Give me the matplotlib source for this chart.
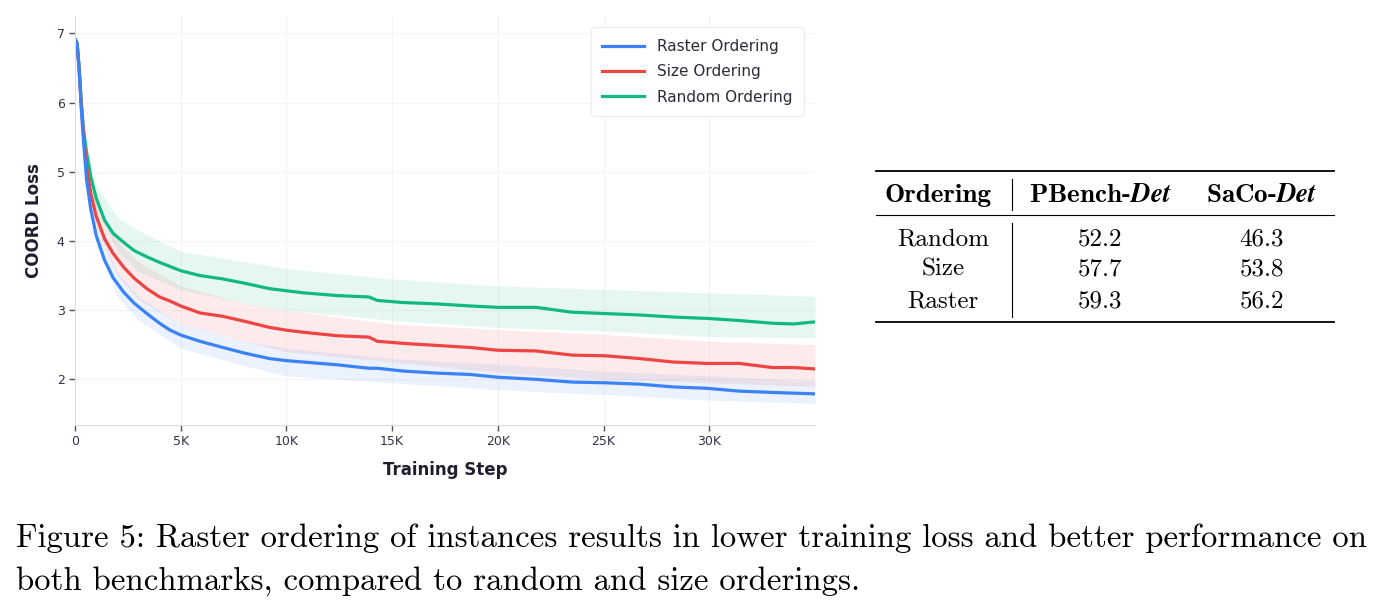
import matplotlib
matplotlib.use("Agg")
import matplotlib.pyplot as plt
from matplotlib.lines import Line2D
import numpy as np

# Smoothed COORD loss (steps in thousands)
steps_k = [0, 0.1, 0.2, 0.3, 0.4, 0.55, 0.75, 1.0, 1.4, 1.8, 2.3, 2.8, 3.4, 4.0, 4.5,
           5.0, 5.9, 7.0, 8.0, 9.2, 10.0, 10.8, 12.4, 13.9, 14.3, 15.5, 17.1, 18.7,
           20.0, 21.8, 23.5, 25.1, 26.7, 28.3, 29.9, 31.4, 33.0, 34.0, 35.0]
raster_loss = [6.92, 6.85, 6.45, 5.90, 5.45, 4.88, 4.45, 4.08, 3.72, 3.47, 3.26, 3.10, 2.95,
               2.81, 2.71, 2.64, 2.55, 2.46, 2.38, 2.30, 2.27, 2.25, 2.21, 2.16, 2.16, 2.12,
               2.09, 2.07, 2.03, 2.00, 1.96, 1.95, 1.93, 1.89, 1.87, 1.83, 1.81, 1.80, 1.79]
size_loss = [6.92, 6.85, 6.45, 5.95, 5.55, 5.06, 4.68, 4.36, 4.03, 3.82, 3.62, 3.46, 3.31,
             3.19, 3.13, 3.06, 2.96, 2.91, 2.84, 2.75, 2.71, 2.68, 2.63, 2.61, 2.55, 2.52,
             2.49, 2.46, 2.42, 2.41, 2.35, 2.34, 2.30, 2.25, 2.23, 2.23, 2.17, 2.17, 2.15]
random_loss = [6.92, 6.86, 6.50, 6.00, 5.62, 5.27, 4.92, 4.62, 4.30, 4.11, 3.98, 3.86, 3.77,
               3.69, 3.63, 3.57, 3.50, 3.45, 3.39, 3.31, 3.28, 3.25, 3.21, 3.19, 3.14, 3.11,
               3.09, 3.06, 3.04, 3.04, 2.97, 2.95, 2.93, 2.90, 2.88, 2.85, 2.81, 2.80, 2.83]

# Spread of the raw (unsmoothed) loss
band_k = [0.5, 1, 2, 3, 5, 8, 10, 15, 20, 25, 30, 35]
raster_lo = [4.90, 3.95, 3.20, 2.85, 2.45, 2.20, 2.05, 1.95, 1.85, 1.78, 1.70, 1.65]
raster_hi = [5.10, 4.25, 3.55, 3.20, 2.80, 2.55, 2.45, 2.30, 2.22, 2.12, 2.05, 1.98]
size_lo = [5.00, 4.20, 3.50, 3.15, 2.80, 2.55, 2.40, 2.25, 2.10, 2.00, 1.95, 1.90]
size_hi = [5.20, 4.55, 4.00, 3.70, 3.35, 3.10, 3.00, 2.80, 2.72, 2.65, 2.55, 2.50]
random_lo = [5.20, 4.45, 3.85, 3.55, 3.30, 3.10, 3.00, 2.85, 2.75, 2.70, 2.62, 2.60]
random_hi = [5.45, 4.80, 4.35, 4.15, 3.85, 3.70, 3.60, 3.45, 3.35, 3.30, 3.25, 3.20]

series_names = ["Raster Ordering", "Size Ordering", "Random Ordering"]
colors = ["#3b82f6", "#ef4444", "#10b981"]

# Table
table_header = ["Ordering", "PBench-", "SaCo-"]
orderings = ["Random", "Size", "Raster"]
pbench_det = [52.2, 57.7, 59.3]
saco_det = [46.3, 53.8, 56.2]

caption_lines = [
    "Figure 5: Raster ordering of instances results in lower training loss and better performance on",
    "both benchmarks, compared to random and size orderings.",
]

plt.rcParams["mathtext.fontset"] = "custom"
plt.rcParams["mathtext.bfit"] = "STIXGeneral:italic:bold"

W, H = 1385, 611
fig = plt.figure(figsize=(W / 100, H / 100), dpi=100)


def fx(px):
    return px / W


def fy(py):
    return 1 - py / H


ax = fig.add_axes([fx(75), fy(425), fx(815) - fx(75), fy(16) - fy(425)])

x = np.array(steps_k) * 1000
xb = np.array(band_k) * 1000
curves = [raster_loss, size_loss, random_loss]
bands = [(raster_lo, raster_hi), (size_lo, size_hi), (random_lo, random_hi)]

for (lo, hi), c in zip(bands[::-1], colors[::-1]):
    ax.fill_between(xb, lo, hi, color=c, alpha=0.1, linewidth=0)

for y, c, name in zip(curves[::-1], colors[::-1], series_names[::-1]):
    ax.plot(x, y, color=c, lw=2.3, label=name, solid_capstyle="round")

ax.set_xlim(0, 35000)
ax.set_ylim(1.34, 7.25)
ax.set_xticks([0, 5000, 10000, 15000, 20000, 25000, 30000])
ax.set_xticklabels(["0", "5K", "10K", "15K", "20K", "25K", "30K"])
ax.set_yticks([2, 3, 4, 5, 6, 7])
ax.tick_params(labelsize=9, colors="#555555", labelcolor="#333344", length=4, width=1)
ax.grid(True, color="#f4f4f4", lw=0.8)
ax.set_axisbelow(True)
for s in ["top", "right"]:
    ax.spines[s].set_visible(False)
for s in ["left", "bottom"]:
    ax.spines[s].set_color("#dddddd")
ax.set_xlabel("Training Step", fontsize=12, fontweight="bold", color="#1e1e2e", labelpad=9)
ax.set_ylabel("COORD Loss", fontsize=12, fontweight="bold", color="#1e1e2e", labelpad=10)

handles = [Line2D([0], [0], color=c, lw=2.3) for c in colors]
leg = ax.legend(handles, series_names, loc="upper right", fontsize=11, handlelength=2.75,
                handletextpad=0.8, labelspacing=0.68, borderaxespad=0.75, frameon=True,
                framealpha=1.0, edgecolor="#eeeeee", borderpad=0.75)
for t in leg.get_texts():
    t.set_color("#2d2d3a")

# --- table ---
tx0, tx1 = 876, 1334
fig.add_artist(Line2D([fx(tx0), fx(tx1)], [fy(171), fy(171)], color="black", lw=1.3))
fig.add_artist(Line2D([fx(tx0), fx(tx1)], [fy(215), fy(215)], color="black", lw=0.8))
fig.add_artist(Line2D([fx(tx0), fx(tx1)], [fy(322), fy(322)], color="black", lw=1.3))
fig.add_artist(Line2D([fx(1012), fx(1012)], [fy(179), fy(210)], color="black", lw=0.8))
fig.add_artist(Line2D([fx(1012), fx(1012)], [fy(223), fy(317)], color="black", lw=0.8))

col_x = [941, 1100, 1262]
hdr_y = 202
fig.text(fx(col_x[0] - 3), fy(hdr_y), table_header[0], family="cmb10", fontsize=19.5,
         ha="center", va="baseline")
fig.text(fx(col_x[1]), fy(hdr_y), table_header[1] + r"$\mathbfit{Det}$", family="cmb10",
         fontsize=19.5, ha="center", va="baseline")
fig.text(fx(col_x[2]), fy(hdr_y), table_header[2] + r"$\mathbfit{Det}$", family="cmb10",
         fontsize=19.5, ha="center", va="baseline")

row_y = [245, 276, 307]
for name, p, s, yy in zip(orderings, pbench_det, saco_det, row_y):
    fig.text(fx(col_x[0] + 2), fy(yy), name, family="cmr10", fontsize=18, ha="center", va="baseline")
    fig.text(fx(col_x[1]), fy(yy), f"{p:.1f}", family="cmr10", fontsize=18, ha="center", va="baseline")
    fig.text(fx(col_x[2]), fy(yy), f"{s:.1f}", family="cmr10", fontsize=18, ha="center", va="baseline")

# --- caption ---
fig.text(fx(16), fy(547), caption_lines[0], family="cmr10", fontsize=23.6, ha="left", va="baseline")
fig.text(fx(16), fy(590), caption_lines[1], family="cmr10", fontsize=23.6, ha="left", va="baseline")

fig.savefig("out.png", dpi=100, facecolor="white")
